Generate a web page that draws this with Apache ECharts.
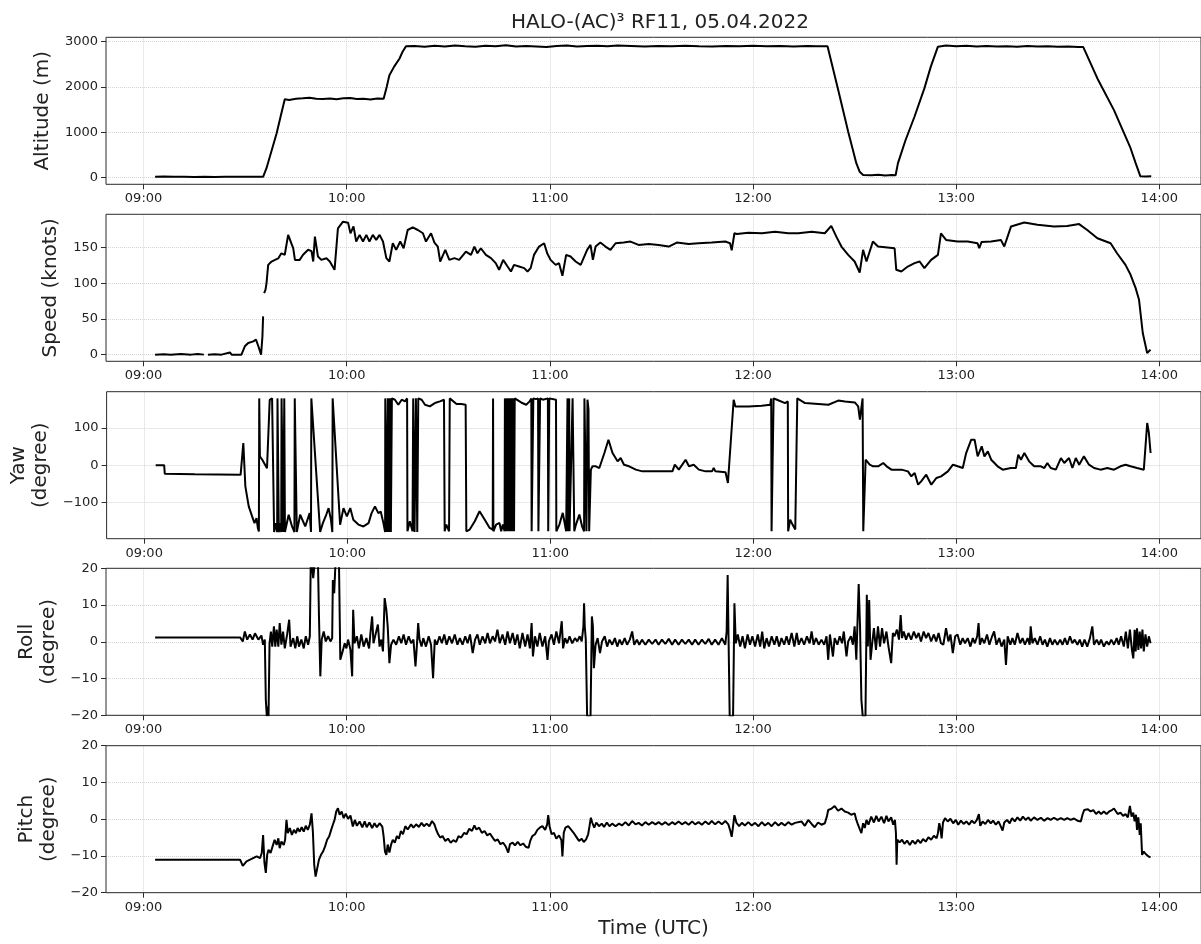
<!DOCTYPE html>
<html>
<head>
<meta charset="utf-8">
<title>HALO-(AC)3 RF11</title>
<script src="https://cdn.jsdelivr.net/npm/echarts@6/dist/echarts.min.js"></script>
<style>
  html, body { margin: 0; padding: 0; background: #fff; }
  .chart { width: 1201px; height: 944px; }
</style>
</head>
<body>
<div class="chart"></div>
<script>
// time is given in minutes after 00:00 UTC
var xTicks = [540, 600, 660, 720, 780, 840];
var xRange = [528.9, 852.3];

var altTicks = [0, 1000, 2000, 3000];
var speedTicks = [0, 50, 100, 150];
var yawTicks = [-100, 0, 100];
var angleTicks = [-20, -10, 0, 10, 20];

// altitude (m)
var altitudeData = [
  [543.4,20],[546,24],[549,18],[552,22],[555,17],[558,21],[561,16],[564,22],[567,19],[570,21],[573,18],[575.3,20],
  [576.3,210],[579.3,980],[580.7,1420],[581.7,1730],[583,1715],[585,1740],[587,1750],[589,1765],[591,1740],[593,1735],
  [595,1745],[597,1730],[599,1750],[601,1760],[603,1735],[605,1740],[607,1725],[609,1745],[610.9,1740],[611.8,2000],
  [612.6,2260],[614,2450],[615.6,2630],[616.5,2780],[617.5,2900],[620,2905],[623,2890],[626,2910],[629,2895],[632,2915],
  [635,2900],[638,2890],[641,2910],[644,2900],[647,2920],[650,2895],[653,2905],[656,2895],[659,2885],[662,2905],[665,2915],
  [668,2895],[671,2905],[674,2910],[677,2900],[680,2915],[684,2905],[688,2895],[692,2905],[696,2900],[700,2910],[704,2900],
  [708,2895],[712,2905],[716,2900],[720,2910],[724,2900],[728,2905],[732,2895],[736,2905],[739,2900],[742,2900],
  [745.1,1950],[748.1,1015],[750.5,320],[751.5,130],[752.5,60],[755,55],[757,62],[759,50],[761,58],[762.1,55],
  [762.8,320],[765,820],[767.7,1350],[770.6,1970],[772.5,2450],[774.6,2890],[777,2915],[780,2900],[783,2910],[786,2895],
  [789,2905],[792,2895],[795,2900],[798,2890],[801,2905],[804,2895],[807,2900],[810,2890],[813,2895],[816,2885],[817.5,2885],
  [821.7,2190],[826.6,1490],[831.5,650],[833,320],[834.4,30],[836,28],[837.6,30]
];

// speed (knots), null = gap in the record
var speedData = [
  [543.4,0],[546,0.5],[548,0],[551,1],[554,0],[556,1],[557.8,0],[558.2,null],[559,0],[561,0.5],[563,0],[565.5,3],[566,0],
  [568.9,0],[569.9,11.7],[570.9,16.3],[572.4,18.6],[573.2,21],[573.9,11.7],[574.7,0],[575.1,25.6],[575.3,53.6],[575.45,null],
  [575.6,86.3],[576,90.9],[576.3,100],[576.8,125.8],[577.8,130.5],[578.8,132.8],[579.8,135],[580.7,142],[581.7,140],
  [582.7,167.8],[584.2,149],[584.7,132.8],[586.1,132.8],[587.1,140],[588.6,147],[589.6,145],[590.1,130.5],[590.6,165.4],
  [591.5,137.5],[592.5,132.8],[594,135],[595,130.5],[596.4,118.9],[597.4,177.1],[598.9,186.4],[600.4,185],[601.1,170],
  [602,179.7],[602.8,158.5],[603.8,167.8],[604.8,158.5],[605.8,167.8],[606.7,158.5],[607.7,167.8],[608.7,160.8],
  [609.7,167.8],[610.7,158.5],[611.7,135.2],[612.6,130.5],[613.6,156.1],[614.6,146.8],[615.8,158.5],[616.8,149.1],
  [618,174.7],[619.5,178.5],[621,174.7],[622.5,170.1],[623.4,158.5],[624.9,170.1],[625.9,157.1],[626.9,151.5],
  [627.6,130.5],[629.1,146.8],[630.3,132.8],[631.8,135.2],[633.2,132.8],[635.2,144.5],[636.7,139.8],[637.7,151.5],
  [638.6,142.1],[639.6,149.1],[641.1,139.8],[642.6,135.2],[644,128.2],[645,118.9],[646.2,132.8],[647.5,123.5],
  [648.5,116.5],[649.4,125.8],[650.9,123.5],[652.4,121.2],[653.4,116.5],[654.3,121.2],[655.3,139.8],[656.8,151.5],
  [658.3,156.1],[659.2,142.1],[660.2,132.8],[661.7,125.8],[662.7,128.2],[663.7,110.5],[664.8,139.8],[666.1,137.5],
  [667.6,130.5],[669.1,125.8],[671,146.8],[672,153.8],[672.7,132.8],[673.5,151.5],[674.9,157.1],[676.4,151.5],
  [677.9,146.8],[679.4,156.1],[681.8,157.1],[683.8,158.5],[686.2,153.8],[689.2,155.2],[692.1,153.8],[695.1,151.5],
  [697.5,157.1],[701,155.2],[703.9,156.1],[707.8,157.1],[711.8,158.5],[713.2,156.1],[713.7,146.2],[714.5,170.1],
  [715.2,169.2],[718.6,171],[722.6,170.1],[726.5,172.4],[730.4,170.1],[733.4,170.1],[737.3,172.4],[741.2,170.1],
  [743.1,180.4],[744.6,165.4],[746.1,151.5],[748.1,139.8],[750,130.5],[751.5,115.1],[752.5,146.8],[753.5,130.5],
  [755.4,158.5],[756.9,151.5],[761.8,149.1],[762.3,118.9],[763.8,116.5],[765.7,123.5],[767.7,128.2],[769.2,130.5],
  [770.6,121.2],[772.6,132.8],[774.6,139.8],[775.5,170.1],[777,160.8],[780.4,158.5],[783.4,158.5],[786.3,156.1],
  [786.8,149.1],[787.5,158],[790.3,158.5],[793.2,160.8],[794.2,151.5],[796.2,179.7],[800.1,185.3],[804,182],
  [808.9,179.7],[812.8,180.4],[816.3,183],[818.7,174.7],[821.7,163.1],[825.6,156.1],[827.5,142.1],[830,125.8],
  [831.5,111.9],[833,93.2],[834,76.9],[834.4,76.9],[835.1,30.3],[836.4,2.3],[836.9,3],[837.4,7]
];

// yaw (degree), wraps at +-180
var yawData = [
  [543.4,0],[545.9,0],[546.1,-23.3],[555,-24.5],[568.5,-26],[569.3,59.6],[569.9,-57],[570.9,-110.9],[571.9,-138],
  [572.6,-156],[573.2,-142.5],[573.6,-169.4],[573.9,-178.3],[574.0,180],[574.2,23.8],[574.9,14.8],[575.3,10.3],
  [576.3,-8.1],[577.1,176],[577.8,180],[578.3,180],[578.4,-180],[578.9,-156],[579.3,-180],[579.4,180],[579.7,180],
  [579.8,-180],[580.2,-156],[580.5,-180],[580.6,180],[581.0,180],[581.1,-180],[581.4,180],[581.5,180],[581.6,-180],
  [582.7,-133.5],[583.7,-165],[584.4,-180],[584.5,180],[585.0,180],[585.1,-180],[586.1,-133.5],[587.6,-165],
  [588.9,-129],[589.3,-180],[589.4,180],[592.0,-180],[592.8,-156],[593.8,-133.5],[594.5,-115.6],[595.2,-147],
  [595.6,-180],[595.7,180],[597.9,-160.4],[598.9,-115.6],[599.9,-138],[600.9,-115.6],[601.8,-147],[603.3,-160],
  [604.8,-165],[606.3,-156],[607.2,-129],[608.2,-111],[609.2,-129],[609.9,-124.6],[610.7,-156],[611.2,-180],
  [611.25,180],[611.6,180],[611.7,-180],[612.0,180],[612.3,-180],[612.6,180],[612.9,-180],[613.2,180],[614.1,176.4],
  [615.1,162.9],[616.1,176.4],[617.1,171.9],[617.7,180],[617.8,-178],[618.5,-151],[619.3,-178],[619.5,180],
  [619.9,-180],[620.3,180],[620.7,-180],[621.0,180],[622.0,176.4],[623.0,162.9],[624.4,158.4],[625.9,167.4],
  [627.4,171.9],[628.6,176.4],[628.8,-178],[629.3,-160],[630.1,-178],[630.3,180],[630.8,176.4],[632.3,165],
  [633.7,165],[635.0,162.9],[635.2,-178],[636.2,-173.5],[637.7,-151],[639.1,-124],[640.6,-146.5],[642.1,-169],
  [643.0,-173.5],[643.1,180],[643.2,-178],[644.0,-160],[645.0,-155.5],[645.5,-178],[646.0,-160],[646.5,-178],
  [646.6,180],[646.9,-178],[647.2,180],[647.5,-178],[647.8,180],[648.1,-178],[648.4,180],[648.7,-178],[649.0,180],
  [649.3,-178],[649.5,180],[649.9,176.4],[651.4,169],[652.9,162.9],[653.9,171.9],[654.4,180],[654.5,-178],[655.0,180],
  [655.8,178],[656.4,180],[656.5,-178],[657.0,180],[657.8,176.4],[659.3,180],[659.4,-178],[659.7,180],[661.7,176.4],
  [661.8,-178],[662.7,-160],[663.7,-128.5],[664.7,-178],[665.1,180],[665.2,-178],[665.6,180],[665.7,-178],[666.6,180],
  [667.1,-178],[667.6,-160],[668.6,-133],[669.4,-164.5],[670.0,-178],[670.1,180],[670.5,176.4],[670.7,-178],
  [671.0,176.4],[671.3,149.9],[671.5,-178],[672.0,-12],[672.5,-3],[673.5,-3],[674.5,-7.6],[675.0,5.9],[676.0,32.8],
  [677.2,68.7],[678.4,32.8],[679.9,10.4],[680.8,19.3],[681.8,1.4],[683.3,-3],[685.3,-12],[687.2,-16.6],[691.2,-16.6],
  [696.1,-16.6],[696.8,1.4],[698.0,-12],[700.0,14.8],[701.0,-3],[702.4,1.4],[703.9,-12],[705.9,-16.6],[707.8,-16.6],
  [708.3,-7.6],[708.8,-16.6],[711.8,-19],[712.5,-48],[712.9,-43.5],[714.2,176.4],[714.7,158.4],[718.6,158.4],
  [722.5,160],[725.0,162.9],[725.3,180],[725.4,-178],[725.8,-178],[726.0,180],[727.0,176.4],[729.4,167.4],
  [730.2,171.9],[730.3,-178],[730.9,-146.5],[731.6,-160],[732.4,-173.5],[732.9,-178],[733.0,180],[733.3,176.4],
  [735.3,167.4],[739.2,165],[742.2,162.9],[745.1,174],[747.1,171.9],[750.0,169],[751.0,158.4],[751.5,122.5],
  [752.0,118],[752.3,180],[752.5,-178],[753.2,14.8],[754.4,1.4],[755.4,-3],[756.9,-3],[758.4,5.9],[759.4,-3],
  [760.8,-12],[763.8,-12],[765.7,-16.6],[766.7,-30],[767.7,-21],[768.7,-52.5],[769.6,-43.5],[771.1,-25.6],
  [772.6,-52.5],[774.1,-34.5],[775.5,-30],[777.5,-16.6],[779.0,1.4],[780.4,-3],[781.9,-7.6],[782.9,32.8],
  [784.4,68.7],[785.4,68.7],[786.3,23.8],[787.5,50.8],[788.3,23.8],[789.3,37.3],[790.3,14.8],[792.2,-3],
  [793.7,-12],[796.1,-7.6],[797.6,-7.6],[798.3,28.3],[799.1,14.8],[800.1,32.8],[801.5,10.4],[803.0,-3],[805.0,-3],
  [806.0,-7.6],[806.9,5.9],[807.9,-7.6],[809.4,-12],[810.9,19.3],[811.9,5.9],[813.3,19.3],[814.3,-7.6],[815.3,19.3],
  [816.3,1.4],[817.7,23.8],[819.2,1.4],[820.7,-7.6],[822.6,-12],[824.6,-7.6],[826.6,-12],[828.5,-3],[830.0,1.4],
  [831.5,-3],[833.4,-7.6],[835.4,-12],[835.9,-12],[836.4,113.6],[836.9,86.7],[837.4,32.8]
];

// roll (degree)
var rollData = [
  [543.4,1.2],[568.5,1.2],[569.3,0.1],[569.9,2.8],[570.6,0.6],[571.4,2.0],[572.2,0.6],[572.9,2.3],[573.9,0.6],
  [574.8,1.7],[575.3,-0.8],[575.8,0.6],[576.1,-15.8],[576.4,-20.3],[576.7,-17.6],[576.9,-20.3],[577.2,-0.4],
  [577.6,2.8],[578.0,-1.3],[578.5,4.2],[578.9,-1.3],[579.3,3.3],[579.8,-1.3],[580.2,5.1],[580.7,-0.8],[581.2,2.8],
  [581.7,-1.8],[582.4,2.0],[583.0,6.0],[583.4,-1.3],[584.2,1.0],[584.8,-1.8],[585.4,1.5],[585.9,-1.3],[586.6,0.6],
  [587.3,-1.8],[587.9,1.5],[588.6,-0.8],[589.1,1.5],[589.4,24],[590.1,17.3],[590.6,22],[591.5,22],[591.8,6.9],
  [592.2,-9.4],[592.6,0.6],[593.2,2.8],[593.8,0.1],[594.5,1.5],[595.2,0.1],[595.7,1.0],[595.9,16.8],[596.3,13.2],
  [596.7,22],[597.7,22],[598.1,-4.9],[598.4,-4.5],[598.9,-2.2],[599.4,-0.4],[599.9,-1.8],[600.4,0.6],[601.1,-2.2],
  [601.6,-9.4],[601.9,8.7],[602.3,-0.4],[603.0,1.5],[603.6,-1.8],[604.3,2.0],[605.0,-1.3],[605.8,1.0],[606.6,-1.8],
  [607.0,2.4],[607.5,6.9],[607.9,-0.4],[608.5,2.0],[609.2,4.7],[609.7,-1.3],[610.2,0.6],[610.7,-2.6],[611.2,11.9],
  [611.7,8.7],[612.1,4.2],[612.6,-5.8],[613.1,-0.8],[613.8,0.6],[614.6,-0.8],[615.4,1.5],[616.1,-0.4],[616.8,2.0],
  [617.5,-0.8],[618.3,1.5],[619.0,-0.4],[619.7,0.6],[620.3,-6.7],[620.7,-1.3],[621.1,5.1],[621.5,0.6],[622.1,-1.3],
  [622.6,1.0],[623.4,-1.3],[624.2,1.5],[624.9,-0.8],[625.5,-9.9],[626.0,0.6],[626.6,-0.8],[627.4,1.5],[628.1,-0.4],
  [628.8,2.0],[629.5,-0.8],[630.3,1.5],[631.1,-0.4],[631.9,2.0],[632.7,-0.8],[633.4,1.0],[634.2,-0.8],[635.0,1.5],
  [635.7,-0.4],[636.4,2.0],[637.2,-3.1],[637.9,0.6],[638.6,2.0],[639.3,-0.8],[640.1,1.5],[640.9,-0.4],[641.6,2.4],
  [642.3,-0.4],[643.1,1.5],[643.8,0.1],[644.5,3.3],[645.2,-0.4],[646.0,2.0],[646.8,-0.8],[647.5,2.8],[648.2,-0.4],
  [649.0,2.4],[649.7,-0.8],[650.4,2.0],[651.1,-1.8],[651.9,2.4],[652.7,-1.3],[653.4,2.0],[654.1,-1.8],[654.6,5.1],
  [655.0,-4.0],[655.6,1.5],[656.3,-1.3],[657.0,2.4],[657.8,-1.3],[658.6,1.5],[659.3,-4.9],[659.7,0.1],[660.5,2.0],
  [661.2,-0.8],[661.9,2.8],[662.7,-0.4],[663.5,5.6],[663.9,-1.8],[664.5,1.0],[665.1,-0.4],[665.8,1.5],[666.6,-0.4],
  [667.4,1.0],[668.1,0.1],[668.8,1.5],[669.4,0.1],[669.9,4.2],[670.1,10.5],[670.3,4.2],[670.6,0.6],[671.0,-20.3],
  [672.0,-20.3],[672.4,6.9],[672.7,4.2],[673.0,-7.2],[673.5,-0.8],[674.1,1.0],[674.8,-3.1],[675.4,0.1],[676.2,1.5],
  [676.9,-1.3],[677.6,0.6],[678.4,-0.8],[679.2,1.0],[679.9,-1.3],[680.6,0.6],[681.3,-0.8],[682.1,1.0],[682.8,-0.8],
  [683.6,0.6],[684.3,2.8],[684.9,-0.8],[685.7,0.6],[686.4,-0.8],[687.2,0.6],[688.2,-0.8],[689.2,0.6],[690.2,-0.6],
  [691.2,0.6],[692.1,-0.8],[693.1,0.6],[694.1,-0.6],[695.1,0.8],[696.1,-0.8],[697.0,0.6],[698.0,-0.8],[699.0,0.6],
  [700.0,-0.6],[701.0,0.6],[702.0,-0.8],[702.9,0.6],[703.9,-0.8],[704.9,0.6],[705.9,-0.6],[706.9,0.8],[707.8,-0.8],
  [708.8,0.6],[709.8,-0.8],[710.8,1.0],[711.8,-0.8],[712.2,2.8],[712.5,18.2],[712.8,-1.3],[713.1,-20.3],[714.1,-20.3],
  [714.5,10.5],[714.9,-0.4],[715.5,2.0],[716.2,-1.3],[716.9,1.5],[717.6,-1.8],[718.4,2.0],[719.1,-0.8],[719.8,1.5],
  [720.6,-1.3],[721.4,2.0],[722.1,-1.3],[722.7,2.8],[723.3,-1.8],[724.0,1.0],[724.7,-1.3],[725.5,1.5],[726.3,-0.8],
  [727.0,1.5],[727.7,-1.3],[728.4,1.0],[729.2,-0.8],[729.9,1.5],[730.6,-0.8],[731.4,2.4],[732.2,-1.3],[732.9,2.4],
  [733.5,-0.8],[734.3,1.0],[735.1,-0.8],[735.9,1.5],[736.7,-0.4],[737.3,2.8],[737.9,-0.8],[738.6,1.0],[739.4,-0.8],
  [740.2,0.6],[741.0,-0.8],[741.7,1.5],[742.2,-4.9],[742.7,2.0],[743.2,-1.3],[743.6,-4.0],[744.1,1.0],[744.9,-0.8],
  [745.6,1.5],[746.3,-0.4],[746.8,2.8],[747.6,-4.0],[748.1,0.1],[748.9,1.5],[749.5,-0.8],[750.0,4.2],[750.5,-4.9],
  [751.2,15.7],[751.6,4.2],[752.0,-15.8],[752.4,-20.3],[753.2,-20.3],[753.6,12.8],[753.9,-1.3],[754.3,11.4],
  [754.7,-4.9],[755.2,-0.4],[755.7,3.7],[756.3,-2.2],[756.9,4.2],[757.5,-1.3],[758.1,3.7],[758.7,-0.4],[759.4,2.8],
  [760.0,-1.3],[760.8,-5.8],[761.3,2.4],[761.8,1.5],[762.5,3.3],[763.1,0.6],[763.6,7.3],[764.0,1.0],[764.5,2.8],
  [765.2,0.6],[765.9,2.4],[766.7,0.6],[767.5,2.8],[768.2,1.0],[768.9,2.4],[769.6,0.1],[770.4,2.8],[771.1,1.0],
  [771.8,2.4],[772.6,0.1],[773.4,2.0],[774.1,0.1],[774.8,2.4],[775.5,-0.4],[776.2,-0.8],[777.0,3.7],[777.7,0.1],
  [778.3,2.0],[779.0,-3.1],[779.7,1.5],[780.4,2.0],[781.2,-0.8],[781.9,1.0],[782.6,-0.4],[783.4,1.0],[784.2,-1.3],
  [784.9,1.0],[785.5,-0.4],[786.2,1.5],[786.6,5.1],[787.0,-0.8],[787.6,1.0],[788.3,-0.4],[789.1,2.0],[789.8,-0.8],
  [790.6,1.5],[791.2,2.8],[791.9,-0.8],[792.7,1.0],[793.4,-1.3],[794.2,0.6],[794.7,-6.3],[795.2,1.5],[796.0,-0.8],
  [796.6,1.0],[797.3,-0.8],[798.1,2.4],[798.9,-0.4],[799.6,1.0],[800.3,-0.8],[801.1,1.0],[801.7,-0.8],[802.0,4.2],
  [802.5,-0.4],[803.2,1.0],[804.0,-0.8],[804.8,1.5],[805.5,-0.8],[806.2,0.6],[806.9,-1.3],[807.7,1.0],[808.4,-0.8],
  [809.1,0.6],[809.9,-0.8],[810.7,0.6],[811.4,-0.8],[812.1,1.0],[812.8,-0.8],[813.6,1.5],[814.3,-0.4],[815.0,0.6],
  [815.8,-0.8],[816.5,0.6],[817.2,-1.3],[817.9,0.6],[818.7,-1.3],[819.5,1.0],[820.2,4.2],[820.7,-0.8],[821.5,0.6],
  [822.2,-0.8],[822.8,0.6],[823.6,-1.3],[824.4,0.1],[825.1,-0.8],[825.8,0.6],[826.6,-0.8],[827.4,1.0],[828.0,-0.8],
  [828.7,1.5],[829.5,-1.3],[830.1,2.8],[830.7,-1.8],[831.3,3.3],[831.9,-2.2],[832.3,-4.5],[832.7,3.3],[833.0,-2.6],
  [833.4,3.7],[833.8,-2.2],[834.2,2.8],[834.6,-1.8],[835.0,3.3],[835.4,-2.6],[835.9,2.0],[836.4,-1.3],[836.9,1.5],
  [837.4,-0.4]
];

// pitch (degree)
var pitchData = [
  [543.4,-11.0],[568.5,-11.0],[569.3,-12.7],[570.4,-11.5],[571.9,-10.8],[573.4,-10.1],[574.4,-10.6],[574.9,-9.2],
  [575.3,-4.3],[575.7,-11.9],[576.1,-14.6],[576.5,-9.7],[576.9,-8.3],[577.5,-9.2],[578.1,-7.4],[578.7,-5.6],
  [579.3,-7.0],[579.8,-5.2],[580.2,-7.9],[580.7,-6.1],[581.4,-7.0],[581.8,-5.6],[582.2,-0.2],[582.6,-3.8],
  [583.2,-2.4],[583.8,-4.3],[584.4,-2.9],[585.0,-3.8],[585.5,-2.4],[586.1,-3.4],[586.7,-2.2],[587.3,-3.4],
  [587.9,-1.8],[588.5,-2.9],[589.1,-1.5],[589.6,1.6],[590.0,-3.4],[590.4,-12.4],[590.8,-15.6],[591.3,-13.3],
  [591.8,-11.0],[592.4,-9.7],[593.0,-8.8],[593.6,-7.4],[594.2,-5.6],[594.8,-4.7],[595.4,-2.9],[595.9,-1.5],
  [596.4,-0.2],[596.9,2.1],[597.4,3.0],[597.9,1.2],[598.5,2.1],[599.1,0.3],[599.7,1.5],[600.4,0.1],[601.1,1.0],
  [601.8,-2.0],[602.4,-0.2],[603.0,-1.8],[603.8,-0.6],[604.6,-2.2],[605.3,-0.6],[605.9,-2.2],[606.7,-0.9],
  [607.5,-2.4],[608.2,-1.1],[608.9,-2.2],[609.7,-1.1],[610.5,-2.0],[610.9,-4.7],[611.3,-8.8],[611.7,-9.7],
  [612.1,-6.9],[612.6,-9.1],[613.1,-6.9],[613.6,-5.6],[614.2,-6.4],[614.8,-4.6],[615.4,-5.3],[616.0,-3.2],
  [616.6,-4.1],[617.3,-1.9],[618.0,-2.8],[619.0,-1.4],[619.7,-2.3],[620.5,-1.4],[621.3,-2.1],[622.1,-1.0],
  [622.8,-1.9],[623.6,-1.2],[624.4,-1.9],[625.2,-0.5],[625.9,-1.4],[626.4,-2.8],[627.0,-4.1],[627.6,-5.0],
  [628.3,-4.6],[629.1,-5.9],[629.9,-5.3],[630.7,-6.4],[631.5,-5.7],[632.3,-6.2],[633.0,-4.6],[633.8,-5.0],
  [634.7,-3.7],[635.4,-4.1],[636.2,-2.6],[637.0,-3.2],[637.7,-1.7],[638.3,-2.8],[639.1,-2.3],[639.9,-3.7],
  [640.7,-3.2],[641.5,-4.4],[642.3,-3.9],[643.1,-5.0],[643.8,-5.9],[644.6,-5.5],[645.4,-6.8],[646.2,-6.4],
  [647.0,-7.5],[647.7,-9.1],[648.2,-6.8],[649.0,-6.4],[649.7,-7.1],[650.5,-6.2],[651.3,-7.1],[652.1,-6.6],
  [652.9,-7.5],[653.7,-7.8],[654.2,-5.9],[654.8,-4.6],[655.6,-4.1],[656.3,-2.9],[657.0,-2.3],[657.8,-1.9],
  [658.6,-2.9],[659.2,-1.4],[659.5,1.1],[659.9,-1.9],[660.5,-4.1],[661.2,-3.7],[661.9,-5.3],[662.7,-4.4],
  [663.4,-5.7],[663.7,-10.1],[664.1,-3.7],[664.6,-2.3],[665.4,-1.9],[666.2,-2.8],[667.0,-3.7],[667.8,-4.8],
  [668.6,-5.9],[669.4,-5.3],[670.0,-6.2],[670.7,-5.5],[671.3,-4.1],[671.7,-1.9],[672.1,0.4],[672.5,-0.9],
  [673.1,-2.3],[673.7,-0.9],[674.5,-1.9],[675.3,-1.2],[676.0,-2.1],[676.8,-0.9],[677.6,-1.9],[678.4,-1.2],
  [679.4,-1.9],[680.4,-1.2],[681.3,-1.7],[682.3,-0.8],[683.3,-1.7],[684.3,-0.5],[685.3,-1.4],[686.2,-1.0],
  [687.2,-1.7],[688.2,-0.8],[689.2,-1.5],[690.2,-0.8],[691.2,-1.4],[692.1,-0.8],[693.1,-1.5],[694.1,-0.8],
  [695.1,-1.6],[696.1,-0.8],[697.0,-1.4],[698.0,-0.6],[699.0,-1.4],[700.0,-0.8],[701.0,-1.5],[702.0,-0.6],
  [702.9,-1.4],[703.9,-0.8],[704.9,-1.5],[705.9,-0.6],[706.9,-1.4],[707.8,-0.5],[708.8,-1.4],[709.8,-0.6],
  [710.8,-1.4],[711.8,-0.5],[712.7,-1.4],[713.3,-3.2],[713.7,-4.8],[714.1,-1.9],[714.5,1.1],[715.1,-1.0],
  [715.9,-1.9],[716.7,-1.0],[717.6,-1.7],[718.6,-0.8],[719.6,-1.7],[720.6,-1.0],[721.6,-1.9],[722.6,-0.8],
  [723.5,-1.7],[724.5,-1.0],[725.5,-1.9],[726.5,-0.8],[727.5,-1.7],[728.4,-1.0],[729.4,-1.7],[730.4,-0.8],
  [731.4,-1.5],[732.4,-1.0],[734.3,-0.6],[735.3,-1.8],[736.3,-0.2],[737.3,-1.3],[738.2,-2.2],[739.2,-0.9],
  [740.2,-1.5],[741.2,-1.1],[741.8,0.7],[742.2,2.5],[743.2,2.9],[744.1,3.6],[745.1,2.3],[746.1,2.9],[747.1,2.1],
  [748.1,1.8],[749.0,1.2],[750.0,1.6],[750.5,-0.2],[751.0,-1.5],[751.6,-2.9],[752.0,-3.8],[752.5,-1.1],
  [753.0,-2.4],[753.5,-0.2],[754.1,-1.5],[754.9,0.7],[755.7,-0.9],[756.4,0.9],[757.1,-0.6],[757.9,0.7],
  [758.7,-1.1],[759.4,0.9],[760.0,-0.6],[760.8,0.5],[761.4,-1.5],[761.9,-0.2],[762.2,-3.8],[762.4,-12.4],
  [762.6,-5.6],[763.3,-6.3],[764.0,-5.6],[764.7,-6.7],[765.5,-5.8],[766.3,-7.0],[767.1,-5.8],[767.9,-6.7],
  [768.7,-5.6],[769.5,-6.5],[770.2,-5.4],[771.0,-6.1],[771.8,-4.9],[772.6,-5.6],[773.4,-4.5],[774.2,-5.2],
  [774.6,-3.8],[775.0,-1.1],[775.3,-2.4],[775.7,-5.2],[776.1,-0.9],[776.7,0.3],[777.5,-0.6],[778.3,0.1],
  [779.1,-1.1],[779.9,-0.2],[780.6,-1.5],[781.4,-0.4],[782.2,-1.3],[783.0,-0.6],[783.8,-1.5],[784.6,-0.4],
  [785.4,-1.1],[786.1,-0.2],[786.7,1.4],[787.1,-1.8],[787.8,-0.6],[788.6,-1.3],[789.4,-0.2],[790.2,-1.1],
  [790.9,-0.4],[791.7,-1.5],[792.5,-0.6],[793.2,-2.0],[793.7,-3.1],[794.2,-0.9],[795.0,-0.2],[795.8,-1.1],
  [796.5,0.3],[797.3,-0.6],[798.1,0.5],[798.9,-0.4],[799.7,0.7],[800.5,-0.2],[801.3,0.5],[802.0,-0.4],
  [803.0,0.5],[804.0,-0.2],[805.0,0.4],[806.0,-0.4],[807.0,0.3],[807.9,-0.2],[808.9,0.4],[809.9,-0.2],
  [810.9,0.3],[811.9,-0.2],[812.8,0.3],[813.8,-0.2],[814.8,0.2],[815.8,-0.4],[816.8,-0.6],[817.3,1.2],
  [817.8,2.5],[818.3,2.1],[818.9,2.7],[819.7,2.1],[820.5,2.5],[821.3,1.4],[822.1,2.1],[822.8,1.4],[823.6,2.1],
  [824.4,1.4],[825.2,2.1],[826.0,2.5],[826.6,2.9],[827.2,2.1],[827.7,1.4],[828.5,1.8],[829.3,0.9],[830.0,1.4],
  [830.7,0.5],[831.3,3.6],[831.8,0.7],[832.3,1.8],[832.7,-0.6],[833.1,1.2],[833.4,-2.9],[833.8,0.5],[834.2,-4.3],
  [834.5,-1.1],[834.9,-9.7],[835.4,-8.8],[835.9,-9.4],[836.4,-9.1],[836.9,-10.2],[837.4,-10.4]
];

(function () {
  // 1. init
  var myChart = echarts.init(document.querySelector('.chart'));

  var font = 'DejaVu Sans';
  var plotLeft = 106;
  var plotWidth = 1098;

  // panel layout, one entry per subplot
  var panels = [
    { top: 37.3,  name: 'Altitude (m)',    nameGap: 49, min: -146,  max: 3097,  ticks: altTicks,   data: altitudeData },
    { top: 214.3, name: 'Speed (knots)',   nameGap: 42, min: -9.35, max: 196.7, ticks: speedTicks, data: speedData },
    { top: 391.7, name: 'Yaw\n(degree)',   nameGap: 52, min: -198,  max: 198,   ticks: yawTicks,   data: yawData },
    { top: 568.3, name: 'Roll\n(degree)',  nameGap: 44, min: -20,   max: 20,    ticks: angleTicks, data: rollData },
    { top: 745.7, name: 'Pitch\n(degree)', nameGap: 44, min: -20,   max: 20,    ticks: angleTicks, data: pitchData }
  ];

  function pad(n) { return (n < 10 ? '0' : '') + n; }
  function hhmm(v) {
    var h = Math.floor(Math.round(v) / 60);
    var m = Math.round(v) % 60;
    return pad(h) + ':' + pad(m);
  }
  function minus(v) { return String(v).replace('-', '\u2212'); }

  var grids = [], xAxes = [], yAxes = [], series = [];
  var gridLine = { show: true, lineStyle: { color: '#d4d4d4', type: 'dotted', width: 1 } };
  var tickStyle = { color: '#2b2b2b', width: 1 };

  panels.forEach(function (p, i) {
    // grid drawn above the dotted grid lines so the frame stays solid
    grids.push({
      left: plotLeft, width: plotWidth, top: p.top, height: 147, z: 3,
      show: true, borderColor: '#2b2b2b', borderWidth: 1, backgroundColor: 'transparent'
    });
    var isLast = i === panels.length - 1;
    xAxes.push({
      type: 'value', gridIndex: i, min: xRange[0], max: xRange[1], position: 'bottom',
      axisLine: { show: false, onZero: false },
      axisTick: { show: true, inside: false, length: 5, customValues: xTicks, lineStyle: tickStyle },
      axisLabel: { customValues: xTicks, formatter: hhmm, color: '#222', fontSize: 13, fontFamily: font, margin: 8 },
      splitLine: gridLine,
      name: isLast ? 'Time (UTC)' : '',
      nameLocation: 'middle', nameGap: 26,
      nameTextStyle: { color: '#222', fontSize: 20, fontFamily: font }
    });
    yAxes.push({
      type: 'value', gridIndex: i, min: p.min, max: p.max, position: 'left',
      axisLine: { show: false, onZero: false },
      axisTick: { show: true, inside: false, length: 5, customValues: p.ticks, lineStyle: tickStyle },
      axisLabel: { customValues: p.ticks, formatter: minus, color: '#222', fontSize: 13, fontFamily: font, margin: 8 },
      splitLine: gridLine,
      name: p.name, nameLocation: 'middle', nameGap: p.nameGap, nameRotate: 90,
      nameTextStyle: { color: '#222', fontSize: 20, fontFamily: font, lineHeight: 22 }
    });
    series.push({
      type: 'line', xAxisIndex: i, yAxisIndex: i,
      data: p.data, showSymbol: false, connectNulls: false, clip: true,
      lineStyle: { color: '#000', width: 2 }
    });
  });

  // 2. option
  var option = {
    animation: false,
    backgroundColor: '#fff',
    title: {
      text: 'HALO-(AC)\u00B3 RF11, 05.04.2022',
      left: 655, top: 8, textAlign: 'center',
      textStyle: { color: '#222', fontSize: 20, fontWeight: 'normal', fontFamily: font }
    },
    grid: grids,
    xAxis: xAxes,
    yAxis: yAxes,
    series: series
  };

  // 3. render
  myChart.setOption(option);

  window.addEventListener('resize', function () {
    myChart.resize();
  });
})();
</script>
</body>
</html>
